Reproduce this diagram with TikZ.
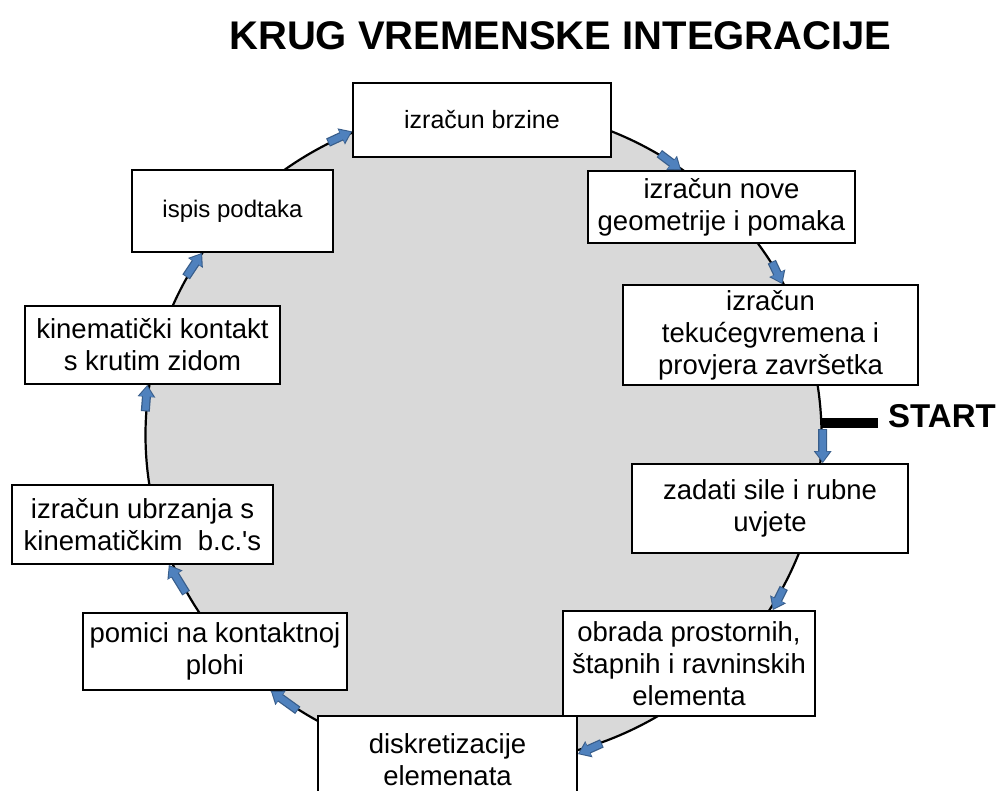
\documentclass[tikz,border=0pt]{standalone}
\usepackage{fontspec}
\newfontfamily\pismo{Liberation Sans}
\usetikzlibrary{arrows.meta,calc,shapes.geometric}
\definecolor{siva}{HTML}{D9D9D9}
\definecolor{plava}{HTML}{4F81BD}
\definecolor{tamnoplava}{HTML}{385D8A}

\begin{document}
\begin{tikzpicture}[x=1pt,y=-1pt,
  korak/.style={draw, line width=1.8pt, fill=white, align=center,
    inner sep=0pt, font=\pismo\fontsize{27.5}{32}\selectfont},
  tok/.style={draw=plava, line width=6.5pt, shorten >=1.5pt, shorten <=1pt,
    -{Triangle[length=10pt,width=13.5pt]},
    preaction={draw=tamnoplava, line width=9pt, shorten >=0pt, shorten <=0pt,
      -{Triangle[length=12pt,width=17pt]}}}]

% Okvir slike
\clip (0,0) rectangle (1006,790);

% Naslov
\node[anchor=base, font=\pismo\bfseries\fontsize{40}{48}\selectfont]
(naslov) at (560.5,49) {KRUG VREMENSKE INTEGRACIJE};

% Krug
\node[draw, ellipse, line width=2.2pt, fill=siva, inner sep=0pt,
minimum width=676pt, minimum height=656pt]
(krug) at (483.5,435) {};

% Koraci
\node[korak, minimum width=258pt, minimum height=74pt, font=\pismo\fontsize{25}{30}\selectfont]
(brzina) at (482,120) {izračun brzine};

\node[korak, minimum width=267pt, minimum height=72pt]
(geometrija) at (721.5,207) {izračun nove\\ geometrije i pomaka};

\node[korak, minimum width=295pt, minimum height=100pt]
(vrijeme) at (770.5,335) {izračun\\ tekućegvremena i\\ provjera završetka};

\node[korak, minimum width=276pt, minimum height=89pt]
(sile) at (770,508.5) {zadati sile i rubne\\ uvjete};

\node[korak, minimum width=252pt, minimum height=105pt]
(obrada) at (689,663.5) {obrada prostornih,\\ štapnih i ravninskih\\ elementa};

\node[korak, minimum width=259pt, minimum height=88pt]
(diskretizacija) at (447.5,760) {diskretizacije\\ elemenata};

\node[korak, minimum width=264pt, minimum height=77pt]
(pomici) at (215,651.5) {pomici na kontaktnoj\\ plohi};

\node[korak, minimum width=261pt, minimum height=79pt]
(ubrzanje) at (142.5,524.5) {izračun ubrzanja s\\ kinematičkim~ b.c.'s};

\node[korak, minimum width=255pt, minimum height=78pt]
(kontakt) at (152.5,345) {kinematički kontakt\\ s krutim zidom};

\node[korak, minimum width=201pt, minimum height=82pt, font=\pismo\fontsize{24}{29}\selectfont]
(ispis) at (232.5,211) {ispis podtaka};

% Strelice po krugu
\draw[tok] (krug.118) -- ($(brzina.south west)!.35!(brzina.north west)$);
\draw[tok] (krug.58) -- ($(geometrija.north west)!.35!(geometrija.north east)$);
\draw[tok] (krug.31) -- ($(vrijeme.north west)!.54!(vrijeme.north east)$);
\draw[tok] (krug.1) -- ($(sile.north west)!.69!(sile.north east)$);
\draw[tok] (krug.-27) -- ($(obrada.north west)!.83!(obrada.north east)$);
\draw[tok] (krug.-69) -- ($(diskretizacija.north east)+(0,39)$);
\draw[tok] (krug.236) -- ($(pomici.south west)!.71!(pomici.south east)$);
\draw[tok] (krug.208) -- ($(ubrzanje.south west)!.6!(ubrzanje.south east)$);
\draw[tok] (krug.176) -- ($(kontakt.south west)!.48!(kontakt.south east)$);
\draw[tok] (krug.152) -- ($(ispis.south west)!.35!(ispis.south east)$);

% START
\node[anchor=base west, inner sep=5pt, font=\pismo\bfseries\fontsize{33}{40}\selectfont]
(start) at (883,427) {START};
\coordinate (pocetak) at (krug.2);
\draw[line width=10pt, shorten >=5pt] (pocetak) -- (pocetak -| start.west);

\end{tikzpicture}
\end{document}
